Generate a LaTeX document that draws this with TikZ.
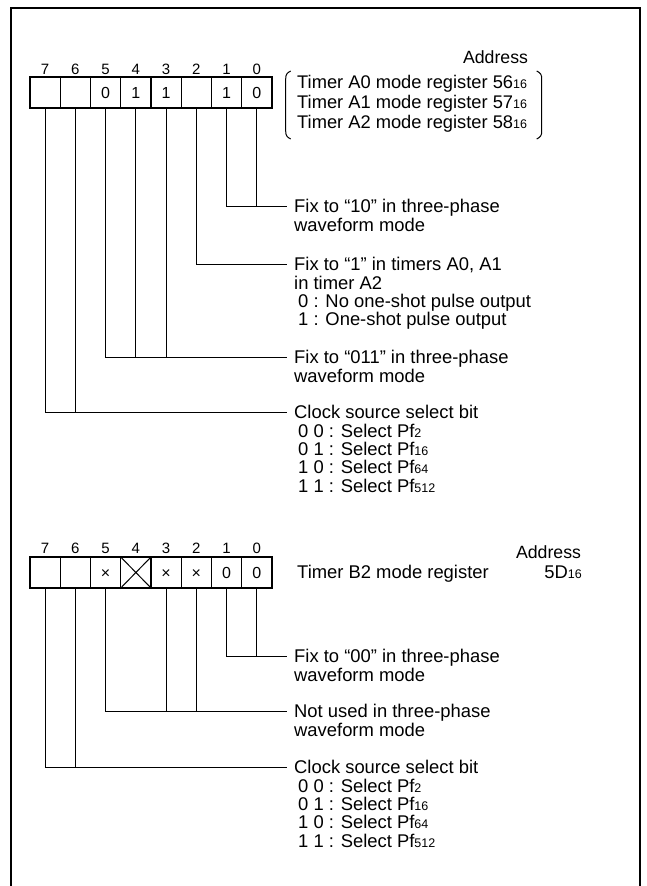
\documentclass[tikz,border=0pt]{standalone}
\usepackage{fontspec}
\setmainfont{Liberation Sans}
\newcommand{\sbs}[1]{{\fontsize{12.5}{13}\selectfont #1}}
\tikzset{
  cell/.style={draw, line width=1.3pt, minimum width=30.25pt, minimum height=31pt, inner sep=0pt, text height=11.4pt, text depth=0pt, font=\fontsize{16}{16}\selectfont},
  bitnum/.style={inner sep=0pt, anchor=base, font=\fontsize{15}{15}\selectfont},
  lab/.style={anchor=north west, inner sep=0pt, align=left, font=\fontsize{18.4}{18.4}\selectfont},
  addr/.style={inner sep=0pt, font=\fontsize{17.7}{18}\selectfont},
  conn/.style={line width=1pt},
  frameline/.style={line width=2pt},
}
\begin{document}
\begin{tikzpicture}[x=1pt,y=-1pt]
\useasboundingbox (0,0) rectangle (647,886);
% outer frame (open at the bottom)
\draw[frameline] (11,892) -- (11,8) -- (640,8) -- (640,892);

% ---------- Register 1 ----------
\foreach \b/\v in {7/{},6/{},5/0,4/1,3/1,2/{},1/1,0/0} {
  \node[cell] (a\b) at ({45.125+30.25*(7-\b)},92.5) {\v};
  \node[bitnum] (na\b) at ({45.125+30.25*(7-\b)},74.4) {\b};
}
\node[addr] (ad1) at (495.5,57) {Address};
\node[lab, font=\fontsize{18.3}{20}\selectfont] (r1) at (297,75.3)
  {Timer A0 mode register 56\sbs{16}\\Timer A1 mode register 57\sbs{16}\\Timer A2 mode register 58\sbs{16}};
\draw[conn] (290.7,71) .. controls (286.5,73) and (285.7,75) .. (285.7,79) -- (285.7,131) .. controls (285.7,135) and (286.5,137) .. (290.7,139);
\draw[conn] (536.7,71) .. controls (540.9,73) and (541.7,75) .. (541.7,79) -- (541.7,131) .. controls (541.7,135) and (540.9,137) .. (536.7,139);

\coordinate (e10) at (287,206);
\draw[conn] (a1.south) |- (e10);
\draw[conn] (a0.south) -- (a0.south |- e10);
\node[lab] (l10) at (294,199.2) {Fix to “10” in three-phase\\waveform mode};

\coordinate (e2) at (287,264);
\draw[conn] (a2.south) |- (e2);
\node[lab] (l2) at (294,257.2) {Fix to “1” in timers A0, A1\\in timer A2\\\hspace*{4pt}0 : No one-shot pulse output\\\hspace*{4pt}1 : One-shot pulse output};

\coordinate (e543) at (287,357);
\draw[conn] (a5.south) |- (e543);
\draw[conn] (a4.south) -- (a4.south |- e543);
\draw[conn] (a3.south) -- (a3.south |- e543);
\node[lab] (l543) at (294,350.2) {Fix to “011” in three-phase\\waveform mode};

\coordinate (e76) at (287,412);
\draw[conn] (a7.south) |- (e76);
\draw[conn] (a6.south) -- (a6.south |- e76);
\node[lab] (l76) at (294,405.2) {Clock source select bit\\\hspace*{4pt}0 0 : Select Pf\sbs{2}\\\hspace*{4pt}0 1 : Select Pf\sbs{16}\\\hspace*{4pt}1 0 : Select Pf\sbs{64}\\\hspace*{4pt}1 1 : Select Pf\sbs{512}};

% ---------- Register 2 ----------
\foreach \b/\v in {7/{},6/{},5/×,4/{},3/×,2/×,1/0,0/0} {
  \node[cell] (b\b) at ({45.125+30.25*(7-\b)},572.5) {\v};
  \node[bitnum] (nb\b) at ({45.125+30.25*(7-\b)},553.4) {\b};
}
\draw[conn] (b4.north west) -- (b4.south east) (b4.north east) -- (b4.south west);
\node[addr] (ad2) at (548.5,552) {Address};
\node[lab] (tb2) at (297,565.2) {Timer B2 mode register};
\node[lab, anchor=north east] (ab2) at (582,565.2) {5D\sbs{16}};

\coordinate (f10) at (287,656);
\draw[conn] (b1.south) |- (f10);
\draw[conn] (b0.south) -- (b0.south |- f10);
\node[lab] (m10) at (294,649.2) {Fix to “00” in three-phase\\waveform mode};

\coordinate (f532) at (287,711);
\draw[conn] (b5.south) |- (f532);
\draw[conn] (b3.south) -- (b3.south |- f532);
\draw[conn] (b2.south) -- (b2.south |- f532);
\node[lab] (m532) at (294,704.2) {Not used in three-phase\\waveform mode};

\coordinate (f76) at (287,767);
\draw[conn] (b7.south) |- (f76);
\draw[conn] (b6.south) -- (b6.south |- f76);
\node[lab] (m76) at (294,760.2) {Clock source select bit\\\hspace*{4pt}0 0 : Select Pf\sbs{2}\\\hspace*{4pt}0 1 : Select Pf\sbs{16}\\\hspace*{4pt}1 0 : Select Pf\sbs{64}\\\hspace*{4pt}1 1 : Select Pf\sbs{512}};
\end{tikzpicture}
\end{document}
